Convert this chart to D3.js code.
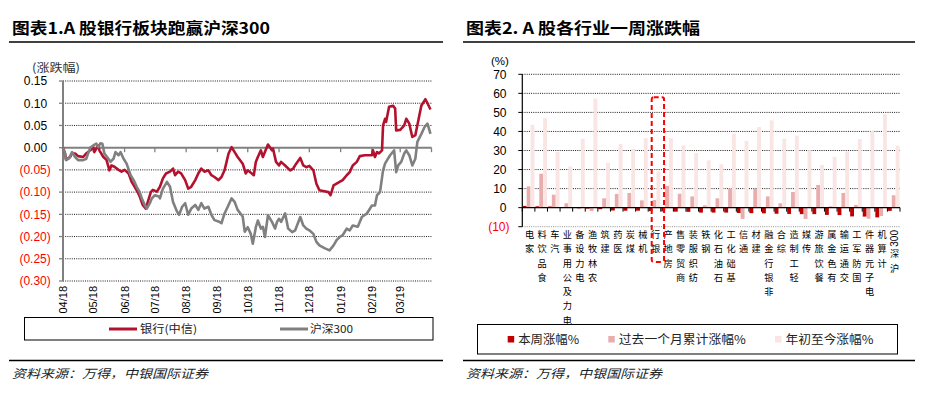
<!DOCTYPE html>
<html><head><meta charset="utf-8">
<script src="https://cdn.jsdelivr.net/npm/d3@7"></script>
<style>body{margin:0;background:#fff}svg{display:block}</style>
</head><body>
<svg id="c" width="950" height="396"></svg>
<script>
// ---------------- DATA ----------------
const leftTitle = "图表1.A 股银行板块跑赢沪深300";
const rightTitle = "图表2. A 股各行业一周涨跌幅";
const sourceNote = "资料来源：万得，中银国际证券";
const leftUnit = "(涨跌幅)";
const rightUnit = "(%)";
const lineNames = ["银行(中信)", "沪深300"];

const bankSeries = [
["2018-04-01",0.000],["2018-04-03",-0.013],["2018-04-04",-0.027],["2018-04-08",-0.021],["2018-04-10",-0.013],
["2018-04-13",-0.013],["2018-04-16",-0.019],["2018-04-21",-0.021],["2018-04-24",-0.013],["2018-04-28",-0.006],
["2018-05-01",0.001],["2018-05-02",-0.010],["2018-05-06",0.005],["2018-05-07",-0.006],["2018-05-11",-0.021],
["2018-05-14",-0.027],["2018-05-17",-0.051],["2018-05-19",-0.040],["2018-05-22",-0.043],["2018-05-26",-0.050],
["2018-05-29",-0.054],["2018-06-01",-0.050],["2018-06-05",-0.058],["2018-06-08",-0.077],["2018-06-11",-0.088],
["2018-06-14",-0.100],["2018-06-16",-0.110],["2018-06-19",-0.129],["2018-06-22",-0.137],["2018-06-24",-0.122],
["2018-06-27",-0.100],["2018-06-29",-0.095],["2018-07-03",-0.099],["2018-07-06",-0.088],["2018-07-09",-0.069],
["2018-07-12",-0.058],["2018-07-16",-0.054],["2018-07-19",-0.047],["2018-07-21",-0.062],["2018-07-24",-0.054],
["2018-07-27",-0.058],["2018-07-31",-0.073],["2018-08-03",-0.092],["2018-08-06",-0.088],["2018-08-10",-0.073],
["2018-08-13",-0.058],["2018-08-16",-0.047],["2018-08-19",-0.054],["2018-08-23",-0.051],["2018-08-26",-0.062],
["2018-08-29",-0.066],["2018-09-02",-0.073],["2018-09-05",-0.066],["2018-09-08",-0.051],["2018-09-12",-0.013],
["2018-09-15",0.001],["2018-09-18",-0.010],["2018-09-21",-0.021],["2018-09-26",-0.036],["2018-09-29",-0.058],
["2018-10-01",-0.051],["2018-10-05",-0.058],["2018-10-07",-0.062],["2018-10-09",-0.032],["2018-10-11",-0.021],
["2018-10-14",-0.006],["2018-10-16",-0.021],["2018-10-18",-0.010],["2018-10-21",0.007],["2018-10-25",-0.006],
["2018-10-26",-0.002],["2018-10-29",-0.032],["2018-11-01",-0.040],["2018-11-03",-0.032],["2018-11-07",-0.040],
["2018-11-12",-0.051],["2018-11-15",-0.047],["2018-11-18",-0.036],["2018-11-22",-0.023],["2018-11-25",-0.040],
["2018-11-28",-0.044],["2018-12-01",-0.041],["2018-12-05",-0.051],["2018-12-08",-0.081],["2018-12-11",-0.096],
["2018-12-16",-0.098],["2018-12-20",-0.100],["2018-12-22",-0.107],["2018-12-25",-0.085],["2018-12-28",-0.081],
["2018-12-31",-0.077],["2019-01-03",-0.073],["2019-01-07",-0.062],["2019-01-10",-0.055],["2019-01-13",-0.040],
["2019-01-17",-0.032],["2019-01-20",-0.019],["2019-01-25",-0.017],["2019-02-01",-0.017],["2019-02-02",-0.006],
["2019-02-04",-0.021],["2019-02-06",-0.010],["2019-02-08",-0.013],["2019-02-11",-0.006],["2019-02-12",0.050],
["2019-02-14",0.065],["2019-02-15",0.058],["2019-02-18",0.092],["2019-02-22",0.094],["2019-02-24",0.088],
["2019-02-25",0.039],["2019-03-01",0.040],["2019-03-05",0.050],["2019-03-07",0.065],["2019-03-10",0.054],
["2019-03-13",0.024],["2019-03-16",0.028],["2019-03-20",0.073],["2019-03-22",0.095],["2019-03-26",0.109],
["2019-03-28",0.100],["2019-03-31",0.086]
];

const hs300Series = [
["2018-04-01",0.000],["2018-04-03",-0.013],["2018-04-04",-0.028],["2018-04-07",-0.024],["2018-04-10",-0.010],
["2018-04-13",-0.021],["2018-04-16",-0.028],["2018-04-21",-0.028],["2018-04-24",-0.025],["2018-04-28",0.000],
["2018-05-01",0.005],["2018-05-04",0.009],["2018-05-06",0.001],["2018-05-08",0.010],["2018-05-10",0.009],
["2018-05-12",-0.013],["2018-05-16",-0.025],["2018-05-18",-0.032],["2018-05-21",-0.025],["2018-05-23",-0.010],
["2018-05-26",-0.017],["2018-05-28",-0.010],["2018-05-31",-0.025],["2018-06-03",-0.036],["2018-06-07",-0.062],
["2018-06-10",-0.073],["2018-06-13",-0.088],["2018-06-16",-0.100],["2018-06-18",-0.114],["2018-06-21",-0.129],
["2018-06-23",-0.137],["2018-06-26",-0.125],["2018-06-28",-0.114],["2018-07-01",-0.107],["2018-07-05",-0.110],
["2018-07-06",-0.114],["2018-07-09",-0.092],["2018-07-13",-0.077],["2018-07-16",-0.088],["2018-07-19",-0.122],
["2018-07-23",-0.144],["2018-07-25",-0.151],["2018-07-28",-0.133],["2018-07-31",-0.125],["2018-08-03",-0.151],
["2018-08-06",-0.137],["2018-08-10",-0.129],["2018-08-13",-0.140],["2018-08-16",-0.125],["2018-08-19",-0.137],
["2018-08-23",-0.133],["2018-08-26",-0.151],["2018-08-29",-0.163],["2018-09-02",-0.166],["2018-09-05",-0.170],
["2018-09-08",-0.148],["2018-09-12",-0.129],["2018-09-15",-0.114],["2018-09-18",-0.122],["2018-09-21",-0.140],
["2018-09-26",-0.155],["2018-09-28",-0.189],["2018-10-01",-0.179],["2018-10-04",-0.194],["2018-10-06",-0.216],
["2018-10-09",-0.179],["2018-10-11",-0.164],["2018-10-14",-0.182],["2018-10-16",-0.178],["2018-10-18",-0.201],
["2018-10-21",-0.152],["2018-10-25",-0.167],["2018-10-28",-0.182],["2018-10-30",-0.167],["2018-11-01",-0.160],
["2018-11-03",-0.167],["2018-11-07",-0.148],["2018-11-10",-0.182],["2018-11-14",-0.190],["2018-11-17",-0.186],
["2018-11-22",-0.156],["2018-11-25",-0.175],["2018-11-28",-0.182],["2018-12-01",-0.186],["2018-12-05",-0.194],
["2018-12-08",-0.212],["2018-12-11",-0.220],["2018-12-16",-0.226],["2018-12-21",-0.231],["2018-12-25",-0.220],
["2018-12-28",-0.208],["2018-12-31",-0.201],["2019-01-03",-0.197],["2019-01-07",-0.182],["2019-01-10",-0.186],
["2019-01-13",-0.175],["2019-01-18",-0.178],["2019-01-22",-0.156],["2019-01-27",-0.148],["2019-02-01",-0.130],
["2019-02-04",-0.130],["2019-02-06",-0.107],["2019-02-09",-0.100],["2019-02-12",-0.051],["2019-02-14",-0.036],
["2019-02-16",-0.028],["2019-02-19",-0.017],["2019-02-23",-0.006],["2019-02-25",-0.055],["2019-02-27",-0.040],
["2019-03-02",-0.032],["2019-03-05",-0.013],["2019-03-07",-0.006],["2019-03-10",-0.017],["2019-03-13",-0.040],
["2019-03-16",-0.025],["2019-03-18",0.013],["2019-03-22",0.031],["2019-03-25",0.046],["2019-03-28",0.054],
["2019-03-31",0.031]
];

const leftYTicks = [0.15, 0.10, 0.05, 0.00, -0.05, -0.10, -0.15, -0.20, -0.25, -0.30];
const leftXDomain = ["2018-04-01", "2019-04-01"];
const monthTicks = ["2018-04-01","2018-05-01","2018-06-01","2018-07-01","2018-08-01","2018-09-01",
  "2018-10-01","2018-11-01","2018-12-01","2019-01-01","2019-02-01","2019-03-01","2019-04-01"];
const monthLabels = ["04/18","05/18","06/18","07/18","08/18","09/18","10/18","11/18","12/18","01/19","02/19","03/19",""];

const industries = ["家电","食品饮料","汽车","电力及公用事业","电力设备","农林牧渔","建筑","医药","煤炭","机械",
  "银行","房地产","商贸零售","纺织服装","钢铁","石油石化","基础化工","通信","建材","非银行金融",
  "综合","轻工制造","传媒","餐饮旅游","有色金属","交通运输","国防军工","电子元器件","计算机","沪深300"];
const weekChg  = [0.9,0.7,0.6,0.1,-0.2,-0.5,-0.8,-1.5,-1.6,-1.6,-1.8,-2.0,-2.1,-2.2,-2.6,-2.6,-2.6,-2.8,-2.9,-3.0,
  -3.2,-3.3,-3.4,-3.4,-3.8,-3.9,-4.6,-4.7,-5.1,-1.7];
const monthChg = [11.2,17.8,6.8,2.3,-0.8,-1.8,4.9,7.2,7.7,3.8,4.0,11.4,7.3,5.9,1.2,4.9,10.1,-5.9,9.8,5.9,
  2.3,8.2,-5.9,11.9,0.7,7.7,1.4,-5.8,-4.4,6.5];
const ytdChg   = [43.5,47.0,29.2,21.7,36.2,57.2,23.6,33.4,30.8,36.5,19.0,36.5,32.7,28.7,24.8,22.8,38.8,35.1,42.3,45.8,
  36.2,37.8,30.1,22.4,26.7,29.5,36.0,40.2,49.1,32.5];
const barNames = ["本周涨幅%","过去一个月累计涨幅%","年初至今涨幅%"];
const rightYTicks = [70, 60, 50, 40, 30, 20, 10, 0, -10];
const highlighted = "银行";
const highlightTop = 58;

// ---------------- STYLE ----------------
const CJK = "'Noto Sans CJK SC','Noto Sans CJK JP',sans-serif";
const ARIAL = "'Liberation Sans',Arial,sans-serif";
const RED_LINE = "#B3122F", GRAY_LINE = "#808080";
const BAR_COLORS = ["#C00000", "#E8AEAE", "#FAE5E5"];
const NEG_RED = "#FF0000";

const svg = d3.select("#c");
const parse = d3.utcParse("%Y-%m-%d");

// ---------------- FRAME (titles, rules, notes) ----------------
function frame(x0, x1, tx, title, titleW, noteW) {
  svg.append("text").attr("x", tx).attr("y", 33.5).attr("font-family", CJK).attr("font-weight", "bold")
    .attr("font-size", 16).attr("fill", "#000").attr("textLength", titleW).attr("lengthAdjust", "spacingAndGlyphs")
    .text(title);
  svg.append("line").attr("x1", x0).attr("x2", x1).attr("y1", 42).attr("y2", 42).attr("stroke", "#000").attr("stroke-width", 1.5);
  svg.append("line").attr("x1", x0).attr("x2", x1).attr("y1", 360.5).attr("y2", 360.5).attr("stroke", "#000").attr("stroke-width", 1.3);
  svg.append("text").attr("x", tx).attr("y", 377.5).attr("font-family", CJK).attr("font-style", "italic")
    .attr("font-size", 12).attr("fill", "#222").attr("textLength", noteW).attr("lengthAdjust", "spacingAndGlyphs")
    .text(sourceNote);
}
frame(9, 443, 12, leftTitle, 258, 196);
frame(463, 915, 466, rightTitle, 234, 196);

// ---------------- LEFT CHART ----------------
(function () {
  const L = 63, R = 431.5, T = 81, B = 281;
  const x = d3.scaleUtc().domain(leftXDomain.map(parse)).range([L, R]);
  const y = d3.scaleLinear().domain([-0.30, 0.15]).range([B, T]);
  const g = svg.append("g");

  g.append("text").attr("x", 32).attr("y", 72).attr("font-family", CJK).attr("font-size", 11.5)
    .attr("fill", "#333").attr("textLength", 48).attr("lengthAdjust", "spacingAndGlyphs").text(leftUnit);

  // grid
  g.selectAll(".grid").data(leftYTicks.filter(v => v !== 0)).join("line")
    .attr("x1", L).attr("x2", R).attr("y1", d => y(d)).attr("y2", d => y(d))
    .attr("stroke", "#000").attr("stroke-width", 0.9).attr("stroke-dasharray", "1,1.2");

  // y tick labels
  g.selectAll(".yl").data(leftYTicks).join("text")
    .attr("x", d => d < 0 ? 50.8 : 47.2).attr("y", d => y(d) + 4.3)
    .attr("text-anchor", "end").attr("font-family", ARIAL).attr("font-size", 12)
    .attr("fill", d => d < 0 ? NEG_RED : "#000")
    .text(d => d < 0 ? "(" + (-d).toFixed(2) + ")" : d.toFixed(2));

  // y axis
  g.append("line").attr("x1", L).attr("x2", L).attr("y1", T).attr("y2", B).attr("stroke", "#808080").attr("stroke-width", 2);
  g.selectAll(".yt").data(leftYTicks).join("line")
    .attr("x1", L - 4).attr("x2", L).attr("y1", d => y(d)).attr("y2", d => y(d)).attr("stroke", "#808080").attr("stroke-width", 1.3);

  // x axis at zero
  g.append("line").attr("x1", L).attr("x2", R).attr("y1", y(0)).attr("y2", y(0)).attr("stroke", "#808080").attr("stroke-width", 2);
  g.selectAll(".xt").data(monthTicks).join("line")
    .attr("x1", d => x(parse(d))).attr("x2", d => x(parse(d)))
    .attr("y1", y(0)).attr("y2", y(0) + 4.5).attr("stroke", "#808080").attr("stroke-width", 1.3);

  // x labels (rotated)
  g.selectAll(".xl").data(monthTicks.map((d, i) => [d, monthLabels[i]]).filter(d => d[1])).join("text")
    .attr("transform", d => `translate(${x(parse(d[0])) + 4},286) rotate(-90)`)
    .attr("text-anchor", "end").attr("font-family", ARIAL).attr("font-size", 11).attr("fill", "#000")
    .text(d => d[1]);

  const line = d3.line().x(d => x(parse(d[0]))).y(d => y(d[1])).curve(d3.curveLinear);
  g.append("path").datum(bankSeries).attr("d", line).attr("fill", "none")
    .attr("stroke", RED_LINE).attr("stroke-width", 2.6).attr("stroke-linejoin", "round");
  g.append("path").datum(hs300Series).attr("d", line).attr("fill", "none")
    .attr("stroke", GRAY_LINE).attr("stroke-width", 2.6).attr("stroke-linejoin", "round");

  // legend
  g.append("rect").attr("x", 24.5).attr("y", 317.5).attr("width", 408.5).attr("height", 22.5)
    .attr("fill", "#fff").attr("stroke", "#000").attr("stroke-width", 1);
  const items = [[109, 140, RED_LINE, 57], [280, 310, GRAY_LINE, 43]];
  items.forEach((it, i) => {
    g.append("line").attr("x1", it[0]).attr("x2", it[0] + 28).attr("y1", 329).attr("y2", 329)
      .attr("stroke", it[2]).attr("stroke-width", 3);
    g.append("text").attr("x", it[1]).attr("y", 333).attr("font-family", CJK).attr("font-size", 11)
      .attr("fill", "#222").attr("textLength", it[3]).attr("lengthAdjust", "spacingAndGlyphs").text(lineNames[i]);
  });
})();

// ---------------- RIGHT CHART ----------------
(function () {
  const L = 522.3, R = 900, T = 74.3, B = 226.7;
  const x = d3.scaleBand().domain(industries).range([L, R]).paddingInner(0.08).paddingOuter(0.04);
  const x1 = d3.scaleBand().domain([0, 1, 2]).range([0, x.bandwidth()]).padding(0);
  const y = d3.scaleLinear().domain([-10, 70]).range([B, T]);
  const g = svg.append("g");
  const step = x.step();

  g.append("text").attr("x", 491).attr("y", 65).attr("font-family", ARIAL).attr("font-size", 11.5)
    .attr("fill", "#000").text(rightUnit);

  g.selectAll(".grid").data(rightYTicks.filter(v => v !== 0)).join("line")
    .attr("x1", L).attr("x2", R).attr("y1", d => y(d)).attr("y2", d => y(d))
    .attr("stroke", d => d < 0 ? "#888" : "#000").attr("stroke-width", 0.9).attr("stroke-dasharray", "1,1.2");

  g.selectAll(".yl").data(rightYTicks).join("text")
    .attr("x", d => d < 0 ? 509.5 : 506.5).attr("y", d => y(d) + 4.3)
    .attr("text-anchor", "end").attr("font-family", ARIAL).attr("font-size", 12)
    .attr("fill", d => d < 0 ? NEG_RED : "#000")
    .text(d => d < 0 ? "(" + (-d) + ")" : d);

  // bars
  const series = [weekChg, monthChg, ytdChg];
  series.forEach((vals, s) => {
    g.selectAll(".b" + s).data(industries).join("rect")
      .attr("x", (d) => x(d) + x1(s)).attr("width", x1.bandwidth())
      .attr("y", (d, i) => Math.min(y(vals[i]), y(0)))
      .attr("height", (d, i) => Math.abs(y(vals[i]) - y(0)))
      .attr("fill", BAR_COLORS[s]);
  });

  // axes
  g.append("line").attr("x1", L).attr("x2", L).attr("y1", T).attr("y2", B).attr("stroke", "#000").attr("stroke-width", 1.2);
  g.selectAll(".yt").data(rightYTicks).join("line")
    .attr("x1", L - 4).attr("x2", L).attr("y1", d => y(d)).attr("y2", d => y(d)).attr("stroke", "#000").attr("stroke-width", 1);
  g.append("line").attr("x1", L).attr("x2", R).attr("y1", y(0)).attr("y2", y(0)).attr("stroke", "#000").attr("stroke-width", 1.2);
  const bounds = industries.map(d => x(d) - x.paddingInner() * step / 2).concat([R]);
  g.selectAll(".xt").data(bounds).join("line")
    .attr("x1", d => d).attr("x2", d => d).attr("y1", y(0)).attr("y2", y(0) + 4).attr("stroke", "#000").attr("stroke-width", 1);

  // vertical category labels (stacked, read bottom to top)
  const FS = 9.2, PITCH = 14.3, TOP = 230;
  industries.forEach(name => {
    const cx = x(name) + x.bandwidth() / 2 + 1;
    const tokens = name.match(/[0-9]+|./g).reverse();
    let yy = TOP;
    tokens.forEach(tk => {
      if (/^[0-9]+$/.test(tk)) {
        const len = tk.length * FS * 0.556;
        g.append("text").attr("transform", `translate(${cx + FS * 0.36},${yy}) rotate(-90)`)
          .attr("text-anchor", "end").attr("font-family", ARIAL).attr("font-size", FS + 0.8).attr("fill", "#000").text(tk);
        yy += len + 4;
      } else {
        g.append("text").attr("x", cx).attr("y", yy + FS * 0.86).attr("text-anchor", "middle")
          .attr("font-family", CJK).attr("font-size", FS).attr("fill", "#000").text(tk);
        yy += PITCH;
      }
    });
  });

  // highlight box
  g.append("rect").attr("x", x(highlighted) + 3).attr("y", y(highlightTop))
    .attr("width", step * 0.98).attr("height", 262 - y(highlightTop)).attr("rx", 2)
    .attr("fill", "none").attr("stroke", "#FF0000").attr("stroke-width", 2).attr("stroke-dasharray", "5,3");

  // legend
  g.append("rect").attr("x", 477.5).attr("y", 324.5).attr("width", 420).attr("height", 29.5)
    .attr("fill", "#fff").attr("stroke", "#000").attr("stroke-width", 1);
  const lx = [507.7, 608.3, 775], lw = [61, 127, 88];
  barNames.forEach((n, i) => {
    g.append("rect").attr("x", lx[i]).attr("y", 336).attr("width", 6.5).attr("height", 6.5).attr("fill", BAR_COLORS[i]);
    g.append("text").attr("x", lx[i] + 10.5).attr("y", 344).attr("font-family", CJK).attr("font-size", 12)
      .attr("fill", "#222").attr("textLength", lw[i]).attr("lengthAdjust", "spacingAndGlyphs").text(n);
  });
})();
</script>
</body></html>
